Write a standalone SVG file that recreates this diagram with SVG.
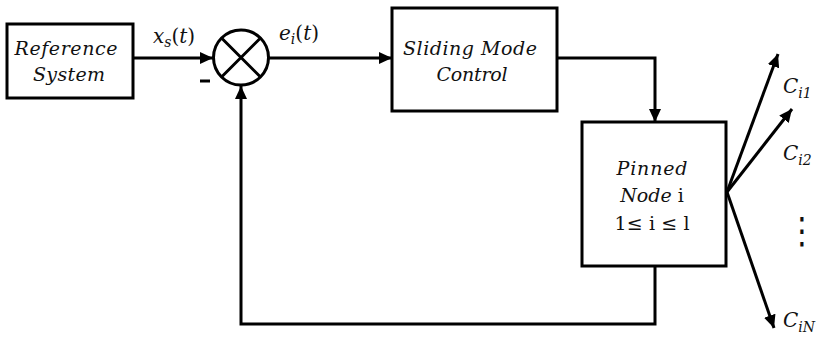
<svg xmlns="http://www.w3.org/2000/svg" width="818" height="338" viewBox="0 0 818 338">
<style>
.box{fill:#fff;stroke:#000;stroke-width:3}
.ln{fill:none;stroke:#000;stroke-width:3}
.t{font-family:"DejaVu Serif","Liberation Serif",serif;font-style:italic;font-size:19px;fill:#111}
.u{font-family:"DejaVu Serif","Liberation Serif",serif;font-size:19px;fill:#111}
.m{font-family:"DejaVu Serif","Liberation Serif",serif;font-style:italic;font-size:20px;fill:#111}
.s{font-size:14px}
</style>
<defs>
<marker id="ah" markerUnits="userSpaceOnUse" markerWidth="14" markerHeight="12" refX="13" refY="6" orient="auto">
<path d="M0,0 L13,6 L0,12 Z" fill="#000"/>
</marker>
</defs>
<g id="ref">
<rect class="box" x="7" y="24" width="126" height="74"/>
<text class="t" x="66" y="55" text-anchor="middle" textLength="103">Reference</text>
<text class="t" x="69" y="81" text-anchor="middle" textLength="72">System</text>
</g>
<g id="sum">
<circle cx="241" cy="57.5" r="27.5" fill="#fff" stroke="#000" stroke-width="3"/>
<path class="ln" d="M221.5,38 L260.5,77 M260.5,38 L221.5,77"/>
<path d="M200,81 H210" stroke="#000" stroke-width="3"/>
</g>
<g id="smc">
<rect class="box" x="392" y="8" width="165" height="103"/>
<text class="t" x="470" y="55" text-anchor="middle" textLength="134">Sliding Mode</text>
<text class="t" x="472" y="81" text-anchor="middle" textLength="71">Control</text>
</g>
<g id="pinned">
<rect class="box" x="582" y="122" width="144" height="144"/>
<text class="t" x="652" y="175" text-anchor="middle" textLength="71">Pinned</text>
<text x="652" y="202" text-anchor="middle"><tspan class="t">Node</tspan><tspan class="u"> i</tspan></text>
<text class="u" x="652" y="230" text-anchor="middle" textLength="75">1≤ i ≤ l</text>
</g>
<g id="connectors">
<path class="ln" d="M133,58 H213" marker-end="url(#ah)"/>
<path class="ln" d="M269,58 H392" marker-end="url(#ah)"/>
<path class="ln" d="M557,58 H655 V122" marker-end="url(#ah)"/>
<path class="ln" d="M655,266 V324 H241 V86" marker-end="url(#ah)"/>
<path class="ln" d="M727,192 L778,54" marker-end="url(#ah)"/>
<path class="ln" d="M727,192 L792,109" marker-end="url(#ah)"/>
<path class="ln" d="M727,192 L774,328" marker-end="url(#ah)"/>
</g>
<g id="labels">
<text class="m" x="153" y="43">x<tspan class="s" dy="4">s</tspan><tspan dy="-4" font-style="normal">(</tspan>t<tspan font-style="normal">)</tspan></text>
<text class="m" x="279" y="40">e<tspan class="s" dy="4">i</tspan><tspan dy="-4" font-style="normal">(</tspan>t<tspan font-style="normal">)</tspan></text>
<text class="m" x="783" y="93" font-size="22">C<tspan class="s" dy="5">i1</tspan></text>
<text class="m" x="783" y="160" font-size="22">C<tspan class="s" dy="5">i2</tspan></text>
<text class="m" x="783" y="327" font-size="22">C<tspan class="s" dy="5">iN</tspan></text>
<text transform="translate(802,243) scale(1.1,1.3)" x="0" y="0" text-anchor="middle" font-size="28" font-family="DejaVu Sans, sans-serif" fill="#111">⋮</text>
</g>
</svg>
